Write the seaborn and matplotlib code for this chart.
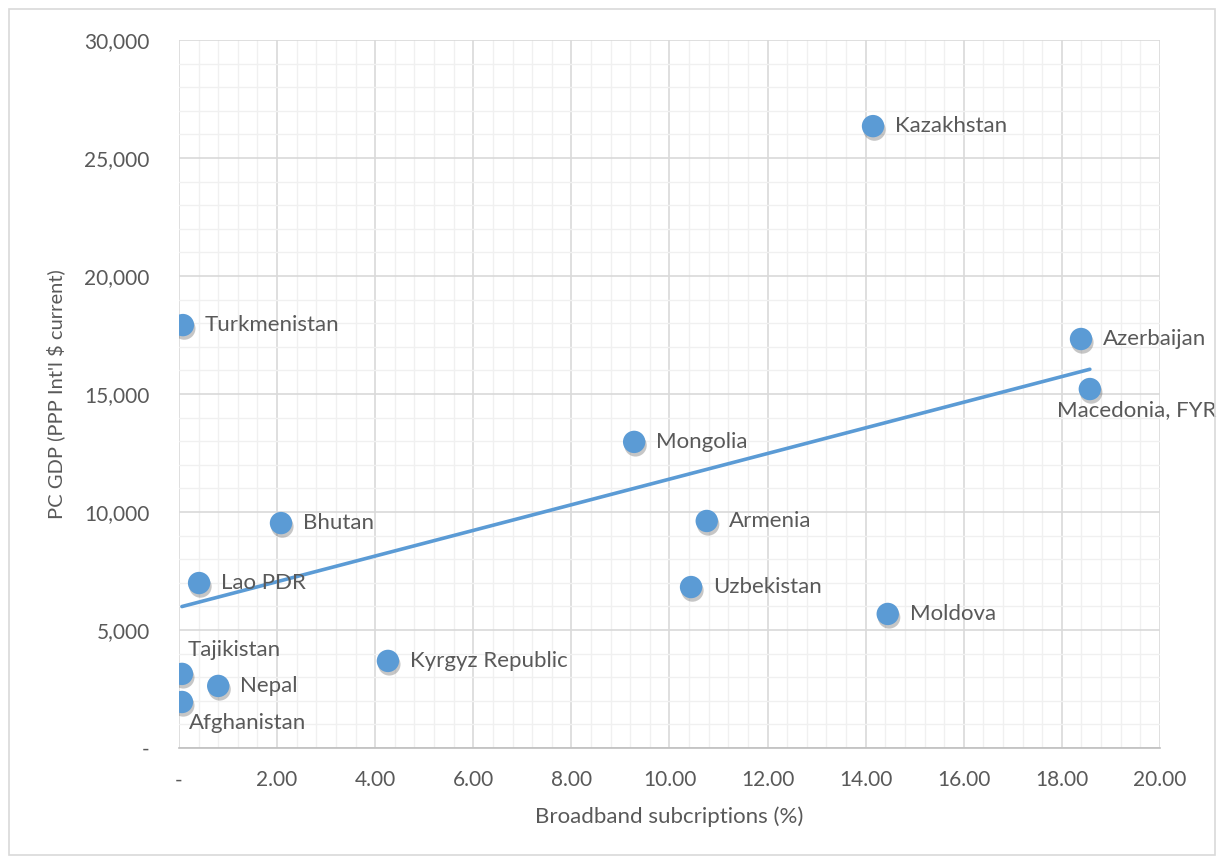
import numpy as np
import pandas as pd
import matplotlib
matplotlib.use("Agg")
import matplotlib.pyplot as plt
import matplotlib.patheffects as pe
from matplotlib.ticker import MultipleLocator, FuncFormatter
import seaborn as sb

countries = ['Kazakhstan', 'Turkmenistan', 'Azerbaijan', 'Macedonia, FYR', 'Mongolia',
             'Bhutan', 'Armenia', 'Lao PDR', 'Uzbekistan', 'Moldova',
             'Kyrgyz Republic', 'Tajikistan', 'Nepal', 'Afghanistan']
broadband = [14.15, 0.08, 18.39, 18.57, 9.28, 2.08, 10.76, 0.41, 10.44, 14.45,
             4.26, 0.06, 0.80, 0.06]
gdp = [26350, 17920, 17330, 15210, 12970, 9530, 9620, 6990, 6820, 5680,
       3690, 3140, 2630, 1950]
# where each label sits relative to its point
label_pos = ['right', 'right', 'right', 'below', 'right', 'right', 'right', 'right',
             'right', 'right', 'right', 'above', 'right', 'below']

df = pd.DataFrame({'country': countries, 'broadband': broadband, 'gdp': gdp, 'pos': label_pos})

blue = '#5B9BD5'
grey_txt = '#595959'

sb.set_style('white')
plt.rcParams['font.family'] = ['Lato', 'DejaVu Sans']

fig = plt.figure(figsize=(12.2, 8.58), dpi=100)
ax = fig.add_axes([0.1467, 0.1282, 0.8041, 0.8252])

# outer chart border like excel
fig.patches.append(plt.Rectangle((0.007, 0.004), 0.989, 0.985, transform=fig.transFigure,
                                 fill=False, edgecolor='#D9D9D9', linewidth=1.2))

sb.regplot(data=df, x='broadband', y='gdp', ax=ax, scatter=False, ci=None, truncate=True,
           line_kws={'color': blue, 'linewidth': 2.6, 'zorder': 3})
sb.scatterplot(data=df, x='broadband', y='gdp', ax=ax, s=260, color=blue,
               edgecolor=blue, linewidth=0, zorder=4)
for c in ax.collections:
    c.set_path_effects([pe.SimplePatchShadow(offset=(1.0, -2.5), shadow_rgbFace='#444444', alpha=0.3),
                        pe.Normal()])

fs = 16
for _, r in df.iterrows():
    if r['pos'] == 'right':
        ax.annotate(r['country'], (r['broadband'], r['gdp']), xytext=(16, 0),
                    textcoords='offset points', ha='left', va='center', fontsize=fs, color=grey_txt)
    elif r['pos'] == 'below':
        ax.annotate(r['country'], (r['broadband'], r['gdp']), xytext=(-24 if r['broadband'] > 10 else 5, -8),
                    textcoords='offset points', ha='left', va='top', fontsize=fs, color=grey_txt)
    else:
        ax.annotate(r['country'], (r['broadband'], r['gdp']), xytext=(4, 10),
                    textcoords='offset points', ha='left', va='bottom', fontsize=fs, color=grey_txt)

ax.set_xlim(0, 20)
ax.set_ylim(0, 30000)
ax.xaxis.set_major_locator(MultipleLocator(2))
ax.xaxis.set_minor_locator(MultipleLocator(0.4))
ax.yaxis.set_major_locator(MultipleLocator(5000))
ax.yaxis.set_minor_locator(MultipleLocator(1000))
ax.xaxis.set_major_formatter(FuncFormatter(lambda v, p: '-' if v == 0 else f'{v:.2f}'))
ax.yaxis.set_major_formatter(FuncFormatter(lambda v, p: '-' if v == 0 else f'{v:,.0f}'))

ax.grid(which='major', color='#D9D9D9', linewidth=1.2)
ax.grid(which='minor', color='#F0F0F0', linewidth=1.0)
ax.set_axisbelow(True)
for s in ['top', 'right', 'left']:
    ax.spines[s].set_visible(False)
ax.spines['bottom'].set_color('#BFBFBF')
ax.spines['bottom'].set_linewidth(1.2)

ax.tick_params(axis='x', which='major', length=6, color='#BFBFBF', labelsize=15, labelcolor=grey_txt, pad=10)
ax.tick_params(axis='y', which='major', length=0, labelsize=15, labelcolor=grey_txt, pad=21)
ax.tick_params(which='minor', length=0)

ax.set_xlabel('Broadband subcriptions (%)', fontsize=16, color=grey_txt, labelpad=12)
ax.set_ylabel("PC GDP (PPP Int'l $ current)", fontsize=14.5, color=grey_txt, labelpad=14)

fig.savefig('out.png', dpi=100)
